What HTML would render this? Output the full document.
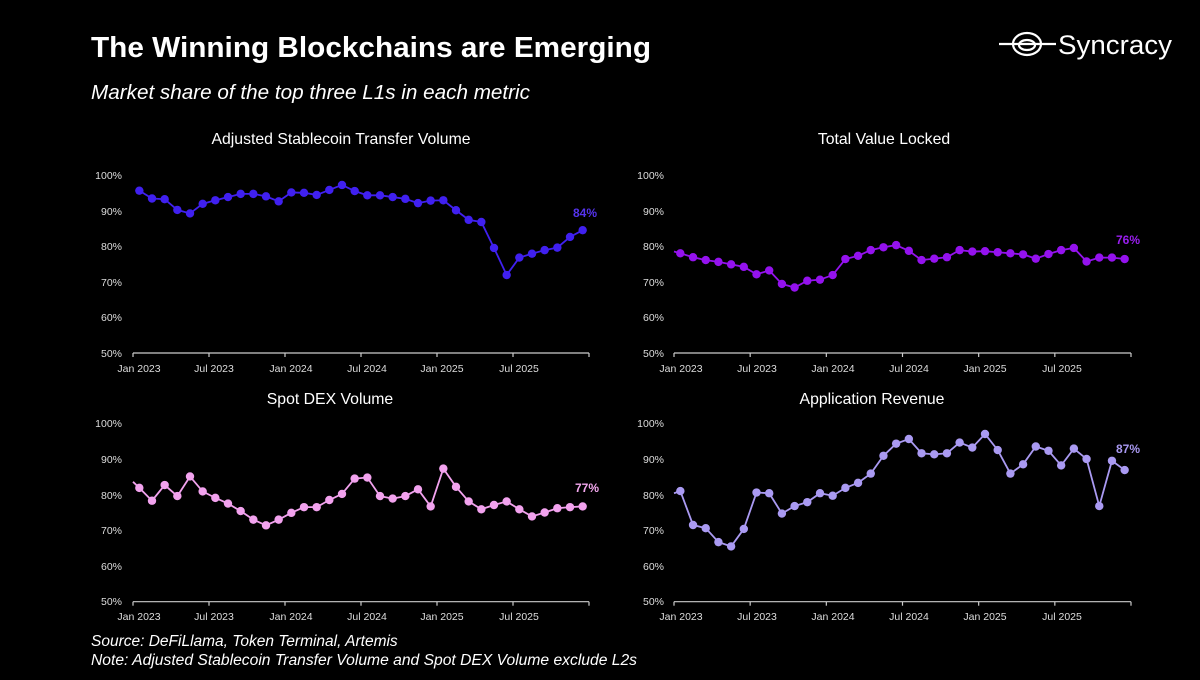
<!DOCTYPE html>
<html><head><meta charset="utf-8"><style>
html,body{margin:0;padding:0;background:#000;}
body{width:1200px;height:675px;overflow:hidden;font-family:"Liberation Sans",sans-serif;color:#fff;}
svg text{font-family:"Liberation Sans",sans-serif;}
</style></head><body>
<svg id="s" width="1200" height="675" viewBox="0 0 1200 675" xmlns="http://www.w3.org/2000/svg">
<rect width="1200" height="675" fill="#000"/>
<text x="91" y="57" font-size="29" font-weight="bold" fill="#fff" textLength="560" lengthAdjust="spacingAndGlyphs">The Winning Blockchains are Emerging</text>
<text x="91" y="99" font-size="20" font-style="italic" fill="#fff" textLength="439" lengthAdjust="spacingAndGlyphs">Market share of the top three L1s in each metric</text>
<g fill="none" stroke="#fff" stroke-width="2.2">
<line x1="999" y1="44" x2="1056" y2="44"/>
<ellipse cx="1027" cy="44" rx="14" ry="11"/>
<ellipse cx="1027" cy="45" rx="8" ry="5"/>
</g>
<text x="1058" y="54" font-size="27" fill="#fff" textLength="114" lengthAdjust="spacingAndGlyphs">Syncracy</text>
<text x="341" y="144" font-size="15.8" text-anchor="middle" fill="#fff">Adjusted Stablecoin Transfer Volume</text>
<text x="884" y="144" font-size="15.8" text-anchor="middle" fill="#fff">Total Value Locked</text>
<text x="330" y="404" font-size="15.8" text-anchor="middle" fill="#fff">Spot DEX Volume</text>
<text x="872" y="404" font-size="15.8" text-anchor="middle" fill="#fff">Application Revenue</text>
<g font-size="10.5" fill="#ddd" text-anchor="end">
<text x="122" y="179">100%</text><text x="122" y="215">90%</text><text x="122" y="250">80%</text><text x="122" y="286">70%</text><text x="122" y="321">60%</text><text x="122" y="357">50%</text>
<text x="664" y="179">100%</text><text x="664" y="215">90%</text><text x="664" y="250">80%</text><text x="664" y="286">70%</text><text x="664" y="321">60%</text><text x="664" y="357">50%</text>
<text x="122" y="427">100%</text><text x="122" y="463">90%</text><text x="122" y="499">80%</text><text x="122" y="534">70%</text><text x="122" y="570">60%</text><text x="122" y="605">50%</text>
<text x="664" y="427">100%</text><text x="664" y="463">90%</text><text x="664" y="499">80%</text><text x="664" y="534">70%</text><text x="664" y="570">60%</text><text x="664" y="605">50%</text>
</g>
<g font-size="10.5" fill="#ddd" text-anchor="middle">
<text x="139" y="372">Jan 2023</text><text x="214" y="372">Jul 2023</text><text x="291" y="372">Jan 2024</text><text x="367" y="372">Jul 2024</text><text x="442" y="372">Jan 2025</text><text x="519" y="372">Jul 2025</text>
<text x="681" y="372">Jan 2023</text><text x="757" y="372">Jul 2023</text><text x="833" y="372">Jan 2024</text><text x="909" y="372">Jul 2024</text><text x="985" y="372">Jan 2025</text><text x="1062" y="372">Jul 2025</text>
<text x="139" y="620">Jan 2023</text><text x="214" y="620">Jul 2023</text><text x="291" y="620">Jan 2024</text><text x="367" y="620">Jul 2024</text><text x="442" y="620">Jan 2025</text><text x="519" y="620">Jul 2025</text>
<text x="681" y="620">Jan 2023</text><text x="757" y="620">Jul 2023</text><text x="833" y="620">Jan 2024</text><text x="909" y="620">Jul 2024</text><text x="985" y="620">Jan 2025</text><text x="1062" y="620">Jul 2025</text>
</g>
<g font-size="12" font-weight="bold" text-anchor="end">
<text x="597" y="217" fill="#5533ee">84%</text>
<text x="1140" y="244" fill="#9a1ef0">76%</text>
<text x="599" y="492" fill="#f3a8ee">77%</text>
<text x="1140" y="453" fill="#a898f0">87%</text>
</g>
<text x="91" y="646" font-size="15.5" font-style="italic" fill="#fff">Source: DeFiLlama, Token Terminal, Artemis</text>
<text x="91" y="665" font-size="15.5" font-style="italic" fill="#fff" textLength="546" lengthAdjust="spacingAndGlyphs">Note: Adjusted Stablecoin Transfer Volume and Spot DEX Volume exclude L2s</text>
<g id="charts"></g>
</svg>
<script>
var NS="http://www.w3.org/2000/svg",g=document.getElementById("charts");
function el(n,a){var e=document.createElementNS(NS,n);for(var k in a)e.setAttribute(k,a[k]);g.appendChild(e);return e;}
function chart(x0,x1,y100,y50,col,d,start){
  el("line",{x1:x0,y1:y50,x2:x1,y2:y50,stroke:"#ccc","stroke-width":1.2});
  for(var t=0;t<=6;t++){var x=x0+(x1-x0)*t/6;el("line",{x1:x,y1:y50,x2:x,y2:y50+4,stroke:"#ccc","stroke-width":1.2});}
  var sx=(x1-x0)/36,Y=function(v){return y50-(v-50)/50*(y50-y100);};
  var pts=[];if(start!=null)pts.push(x0+","+Y(start));
  d.forEach(function(v,i){pts.push((x0+(i+0.5)*sx)+","+Y(v));});
  el("polyline",{points:pts.join(" "),fill:"none",stroke:col,"stroke-width":1.8});
  d.forEach(function(v,i){el("circle",{cx:x0+(i+0.5)*sx,cy:Y(v),r:4.2,fill:col});});
}
chart(133,589,175,353,"#4020f0",[95.6,93.4,93.2,90.2,89.2,91.9,92.9,93.8,94.7,94.7,94,92.6,95.1,95,94.4,95.8,97.2,95.5,94.3,94.3,93.8,93.3,92.1,92.8,92.9,90.1,87.4,86.8,79.5,71.9,76.8,77.9,78.9,79.6,82.6,84.5],null);
chart(674,1131,175,353,"#9412ee",[78,76.9,76.1,75.6,74.9,74.2,72.1,73.2,69.4,68.4,70.3,70.6,71.9,76.4,77.3,78.9,79.7,80.3,78.7,76.1,76.5,76.9,78.9,78.5,78.6,78.3,78,77.7,76.5,77.8,78.9,79.5,75.7,76.8,76.8,76.4],78.5);
chart(133,589,423.3,601.7,"#f2a2ee",[81.9,78.3,82.7,79.6,85.1,80.9,79.1,77.5,75.4,73,71.4,73,74.9,76.5,76.5,78.5,80.2,84.5,84.8,79.6,78.9,79.6,81.5,76.7,87.3,82.2,78.1,75.9,77.1,78.1,75.9,73.9,75,76.2,76.5,76.7],83.6);
chart(674,1131,423.3,601.7,"#aa9af2",[81,71.5,70.6,66.7,65.5,70.4,80.6,80.4,74.7,76.8,77.9,80.4,79.7,81.9,83.3,85.9,90.9,94.3,95.6,91.6,91.3,91.6,94.6,93.2,97,92.5,85.9,88.5,93.5,92.3,88.2,92.9,90,76.8,89.5,86.9],80.4);
</script>
</body></html>
